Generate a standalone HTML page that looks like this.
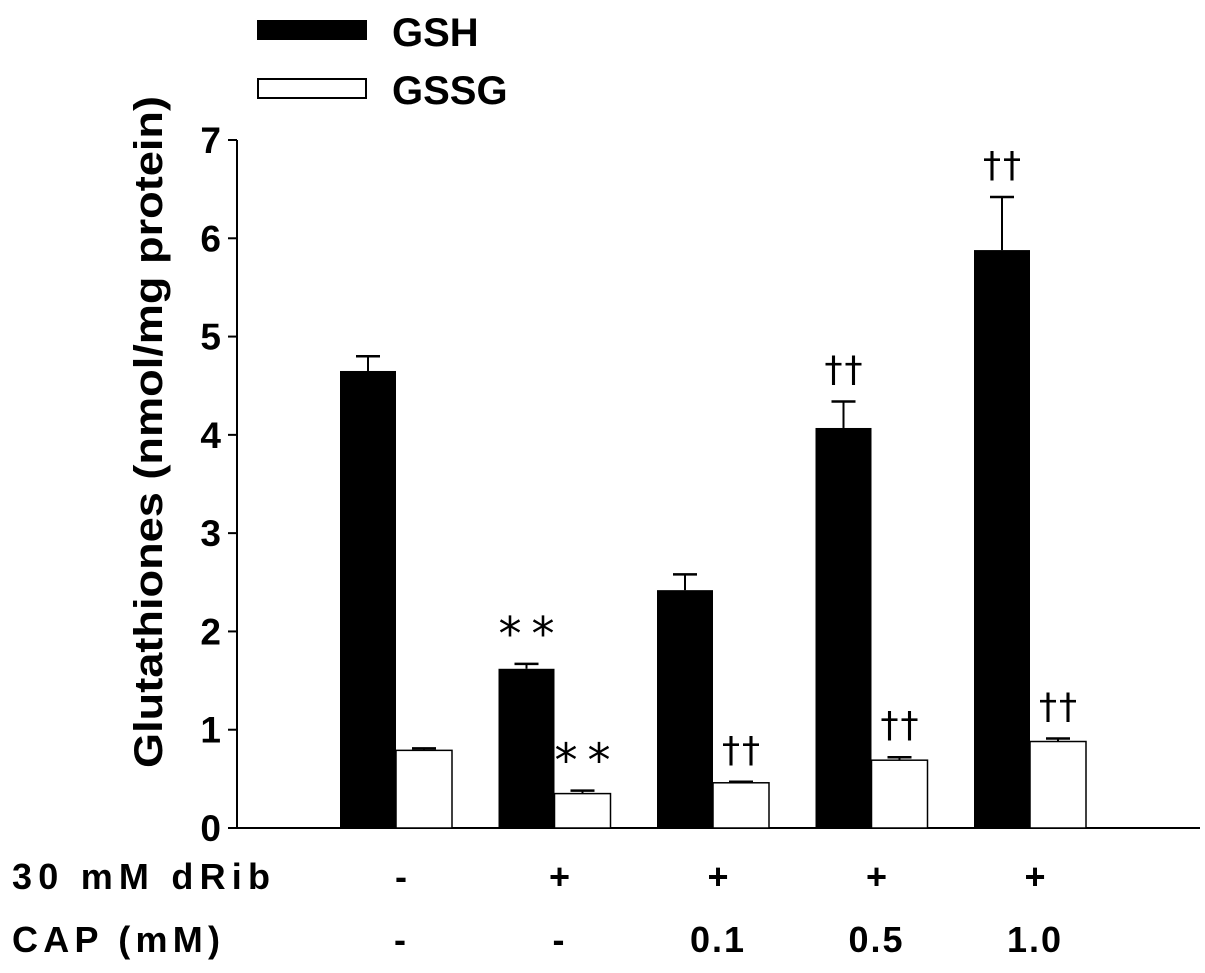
<!DOCTYPE html>
<html><head><meta charset="utf-8"><style>
body{margin:0;background:#fff;}
svg{display:block;font-family:"Liberation Sans",Arial,sans-serif;}
</style></head><body>
<svg id="chart" width="1205" height="973" viewBox="0 0 1205 973">
<g>
<rect x="257" y="20" width="110" height="20" fill="#000"/>
<text x="392" y="46" font-size="40" font-weight="bold">GSH</text>
<rect x="258" y="79" width="108" height="19" fill="#fff" stroke="#000" stroke-width="2"/>
<text x="392" y="104" font-size="40" font-weight="bold">GSSG</text>
</g>
<text transform="translate(162,432) rotate(-90)" text-anchor="middle" font-size="40" font-weight="bold" textLength="672" lengthAdjust="spacingAndGlyphs">Glutathiones (nmol/mg protein)</text>
<g id="axes"></g>
<g id="bars"></g>
<g id="labels"></g>
</svg>
<script>
const categories=["ctrl","dRib","dRib+CAP0.1","dRib+CAP0.5","dRib+CAP1.0"];
const gshValues=[4.65,1.62,2.42,4.07,5.88];
const gshErrors=[0.15,0.05,0.16,0.27,0.54];
const gssgValues=[0.79,0.35,0.46,0.69,0.88];
const gssgErrors=[0.02,0.03,0.01,0.03,0.03];
const gshMarks=["","**","","††","††"];
const gssgMarks=["","**","††","††","††"];
const dribLabels=["-","+","+","+","+"];
const capLabels=["-","-","0.1","0.5","1.0"];
const yTicks=[0,1,2,3,4,5,6,7];

const NS="http://www.w3.org/2000/svg";
const x0=237,y0=828,yTop=140,yMax=7;
const y=v=>y0-(v/yMax)*(y0-yTop);
const groupX=i=>396+i*158.5;
const bw=56;
function mk(tag,attrs,parent){const e=document.createElementNS(NS,tag);for(const k in attrs)e.setAttribute(k,attrs[k]);parent.appendChild(e);return e;}
const axes=document.getElementById('axes'),bars=document.getElementById('bars'),labels=document.getElementById('labels');

let a=mk('line',{x1:x0,y1:y0+1,x2:x0,y2:yTop,stroke:'#000','stroke-width':2},axes);


a=mk('line',{x1:x0,y1:y0,x2:1200,y2:y0,stroke:'#000','stroke-width':2},axes);


yTicks.forEach(t=>{
 const tk=mk('line',{x1:x0-9,y1:y(t),x2:x0,y2:y(t),stroke:'#000','stroke-width':2},axes);
 
 
 const tl=mk('text',{x:x0-16,y:y(t)+13,'text-anchor':'end','font-size':37,'font-weight':'bold'},axes);
 tl.textContent=t;
 
 
});
function errBar(cx,v,e){
 const l=mk('line',{x1:cx,y1:y(v),x2:cx,y2:y(v+e),stroke:'#000','stroke-width':2},bars);
 
 
 const c=mk('line',{x1:cx-12,y1:y(v+e),x2:cx+12,y2:y(v+e),stroke:'#000','stroke-width':2.5},bars);
 
 
}
function mark(cx,yy,txt,isStar){
 if(!txt)return;
 const t=mk('text',{x:cx,y:yy,'text-anchor':'middle','font-size':isStar?46:36,'letter-spacing':isStar?10:2,'font-family':'"DejaVu Sans",sans-serif'},labels);
 t.textContent=txt;
 
 
}
categories.forEach((c,i)=>{
 const gx=groupX(i);
 const b1=mk('rect',{x:gx-bw,y:y(gshValues[i]),width:bw,height:y0-y(gshValues[i]),fill:'#000'},bars);
 
 
 errBar(gx-bw/2,gshValues[i],gshErrors[i]);
 const b2=mk('rect',{x:gx,y:y(gssgValues[i]),width:bw,height:y0-y(gssgValues[i]),fill:'#fff',stroke:'#000','stroke-width':1.5},bars);
 
 
 errBar(gx+bw/2,gssgValues[i],gssgErrors[i]);
 const st1=gshMarks[i]==="**";
 mark(gx-bw/2+(st1?5:1),y(gshValues[i]+gshErrors[i])-(st1?14:20),gshMarks[i],st1);
 const st2=gssgMarks[i]==="**";
 mark(gx+bw/2+(st2?5:1),y(gssgValues[i]+gssgErrors[i])-(st2?14:20),gssgMarks[i],st2);
 const d=mk('text',{x:gx+5,y:889,'text-anchor':'middle','font-size':36,'font-weight':'bold'},labels);
 d.textContent=dribLabels[i];
 
 
 const p=mk('text',{x:gx+5,y:952,'text-anchor':'middle','font-size':36,'font-weight':'bold','letter-spacing':2},labels);
 p.textContent=capLabels[i];
 
 
});
let r=mk('text',{x:12,y:889,'font-size':36,'font-weight':'bold',textLength:258,lengthAdjust:'spacing'},labels);
r.textContent="30 mM dRib";


r=mk('text',{x:12,y:952,'font-size':36,'font-weight':'bold',textLength:208,lengthAdjust:'spacing'},labels);
r.textContent="CAP (mM)";


</script>
</body></html>
